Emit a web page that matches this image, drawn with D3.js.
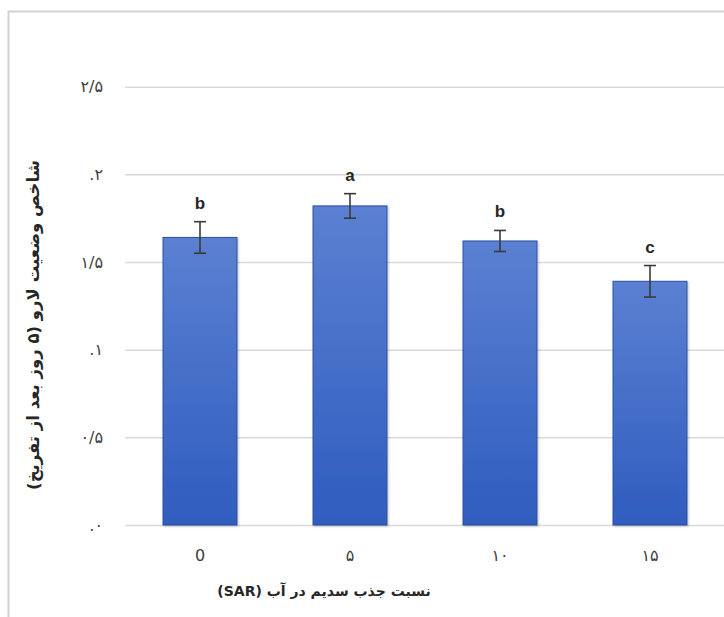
<!DOCTYPE html>
<html>
<head>
<meta charset="utf-8">
<script src="https://cdn.jsdelivr.net/npm/d3@7"></script>
<style>
  html, body { margin: 0; padding: 0; background: #fff; }
  svg { display: block; }
</style>
</head>
<body>
<svg id="chart" width="724" height="617"></svg>
<script>
// Sodium adsorption ratio of the water (categories) and larval condition index
const categories = ["0", "۵", "۱۰", "۱۵"];
const values = [1.64, 1.82, 1.62, 1.39];
const errors = [0.09, 0.07, 0.06, 0.09];
const groups = ["b", "a", "b", "c"];
const yTicks = [0, 0.5, 1, 1.5, 2, 2.5];
const yTickLabels = [".۰", "۰/۵", ".۱", "۱/۵", ".۲", "۲/۵"];
const xTitle = "نسبت جذب سدیم در آب (SAR)";
const yTitle = "شاخص وضعیت لارو (۵ روز بعد از تفریخ)";

const svg = d3.select("#chart");
const W = 724, H = 617;

// outer chart frame
svg.append("rect")
  .attr("x", 8.5).attr("y", 11.5)
  .attr("width", 900).attr("height", 800)
  .attr("fill", "#fff")
  .attr("stroke", "#d2d2d2")
  .attr("stroke-width", 2);

const x = d3.scaleBand()
  .domain(categories)
  .range([125, 725])
  .paddingInner(0.507)
  .paddingOuter(0.2535);

const y = d3.scaleLinear().domain([0, 2.5]).range([525, 86.7]);

// bar gradient
const defs = svg.append("defs");
const grad = defs.append("linearGradient")
  .attr("id", "barGrad").attr("x1", 0).attr("y1", 0).attr("x2", 0).attr("y2", 1);
grad.append("stop").attr("offset", "0%").attr("stop-color", "#5b80d2");
grad.append("stop").attr("offset", "100%").attr("stop-color", "#2f5dbf");

const shadow = defs.append("filter").attr("id", "shadow")
  .attr("x", "-10%").attr("y", "-10%").attr("width", "130%").attr("height", "130%");
shadow.append("feDropShadow")
  .attr("dx", 1).attr("dy", 1).attr("stdDeviation", 1.2)
  .attr("flood-color", "#000").attr("flood-opacity", 0.25);

// gridlines
const yAxis = d3.axisLeft(y)
  .tickValues(yTicks)
  .tickSize(-(W - 125))
  .tickFormat((d, i) => yTickLabels[i]);

const gy = svg.append("g")
  .attr("transform", "translate(125,0)")
  .call(yAxis);
gy.select(".domain").remove();
gy.selectAll(".tick line")
  .attr("stroke", "#d9d9d9")
  .attr("stroke-width", 1.5);
gy.selectAll(".tick text")
  .attr("x", -22)
  .attr("fill", "#404040")
  .attr("font-family", "DejaVu Sans, sans-serif")
  .attr("font-size", 16)
  .attr("direction", "ltr")
  .style("unicode-bidi", "embed");

// bars
const bw = x.bandwidth();
svg.append("g").selectAll("rect")
  .data(values)
  .join("rect")
  .attr("x", (d, i) => x(categories[i]))
  .attr("y", d => y(d))
  .attr("width", bw)
  .attr("height", d => y(0) - y(d))
  .attr("fill", "url(#barGrad)")
  .attr("stroke", "#2a51a3")
  .attr("stroke-width", 1)
  .attr("filter", "url(#shadow)");

// error bars
const eg = svg.append("g").attr("stroke", "#3a3a3a").attr("stroke-width", 1.6);
values.forEach((v, i) => {
  const cx = x(categories[i]) + bw / 2;
  const top = y(v + errors[i]);
  const bot = y(v - errors[i]);
  eg.append("line").attr("x1", cx).attr("x2", cx).attr("y1", top).attr("y2", bot);
  eg.append("line").attr("x1", cx - 6).attr("x2", cx + 6).attr("y1", top).attr("y2", top);
  eg.append("line").attr("x1", cx - 6).attr("x2", cx + 6).attr("y1", bot).attr("y2", bot);
});

// significance letters
svg.append("g").selectAll("text")
  .data(groups)
  .join("text")
  .attr("x", (d, i) => x(categories[i]) + bw / 2)
  .attr("y", (d, i) => y(values[i] + errors[i]) - 13)
  .attr("text-anchor", "middle")
  .attr("font-family", "Liberation Sans, Arial, sans-serif")
  .attr("font-weight", "bold")
  .attr("font-size", 17)
  .attr("fill", "#262626")
  .text(d => d);

// category labels
svg.append("g").selectAll("text")
  .data(categories)
  .join("text")
  .attr("x", d => x(d) + bw / 2)
  .attr("y", 561)
  .attr("text-anchor", "middle")
  .attr("font-family", "DejaVu Sans, sans-serif")
  .attr("font-size", 16)
  .attr("fill", "#404040")
  .attr("direction", "ltr")
  .text(d => d);

// axis titles
svg.append("text")
  .attr("x", 324).attr("y", 596)
  .attr("text-anchor", "middle")
  .attr("direction", "rtl")
  .attr("font-family", "DejaVu Sans, sans-serif")
  .attr("font-weight", "bold")
  .attr("font-size", 14)
  .attr("fill", "#262626")
  .text(xTitle);

svg.append("text")
  .attr("transform", "translate(39,325) rotate(-90)")
  .attr("text-anchor", "middle")
  .attr("direction", "rtl")
  .attr("font-family", "DejaVu Sans, sans-serif")
  .attr("font-weight", "bold")
  .attr("font-size", 16.5)
  .attr("fill", "#262626")
  .text(yTitle);
</script>
</body>
</html>
